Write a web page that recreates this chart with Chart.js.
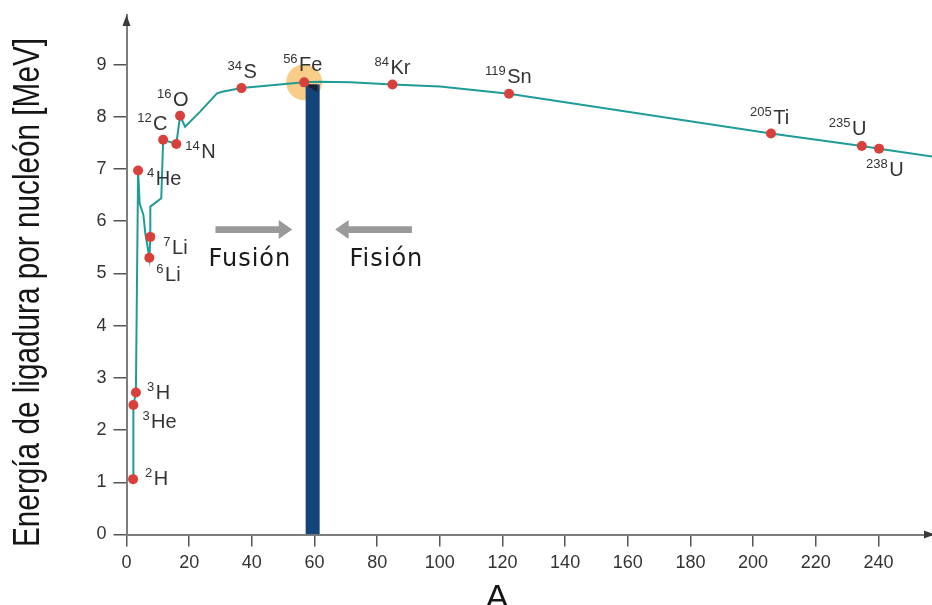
<!DOCTYPE html>
<html lang="es">
<head>
<meta charset="utf-8">
<title>Energía de ligadura por nucleón</title>
<script src="https://cdn.jsdelivr.net/npm/chart.js@4/dist/chart.umd.min.js"></script>
<style>
  html, body { margin: 0; padding: 0; background: #fff; }
  #wrap { width: 932px; height: 605px; position: relative; }
</style>
</head>
<body>
<div id="wrap"><canvas id="chart" width="932" height="605"></canvas></div>
<script>
// Labelled nuclides: mass number text, element symbol, A position and binding energy per nucleon (MeV)
const nuclideMass   = ['2', '3', '3', '4', '6', '7', '12', '14', '16', '34', '56', '84', '119', '205', '235', '238'];
const nuclideSymbol = ['H', 'He', 'H', 'He', 'Li', 'Li', 'C', 'N', 'O', 'S', 'Fe', 'Kr', 'Sn', 'Ti', 'U', 'U'];
const nuclideA      = [2.1, 2.2, 3.0, 3.7, 7.3, 7.6, 11.7, 15.9, 17.1, 36.7, 56.7, 84.9, 122.1, 205.7, 234.7, 240.2];
const nuclideE      = [1.06, 2.48, 2.72, 6.97, 5.30, 5.70, 7.56, 7.48, 8.02, 8.55, 8.66, 8.62, 8.44, 7.68, 7.44, 7.39];

// Binding-energy curve, in drawing order
const curveA = [2.1, 2.2, 3.0, 3.7, 4.2, 5.4, 6.0, 7.3, 7.6, 7.6, 11.1, 11.7, 15.9, 17.1, 18.7, 23.5, 28.9, 30.5,
                36.7, 56.7, 61.8, 71.5, 84.9, 100.1, 122.1, 205.7, 234.7, 240.2, 257.1];
const curveE = [1.06, 2.48, 2.72, 6.97, 6.34, 6.12, 5.77, 5.30, 5.70, 6.28, 6.44, 7.56, 7.48, 8.02, 7.81, 8.10, 8.45, 8.48,
                8.55, 8.66, 8.67, 8.66, 8.62, 8.58, 8.44, 7.68, 7.44, 7.39, 7.24];

// Dividing bar between fusion and fission (A range, top energy) and its dark notch
const dividerA = [57.1, 61.7];
const dividerTop = 8.62;
const notchA = [57.1, 60.9];
const notchE = [8.62, 8.47];

// Arrows (A from -> A to, at energy) and their captions
const fusionArrowA = [28.4, 52.9];
const fissionArrowA = [91.1, 66.6];
const arrowE = 5.84;
const captionText = ['Fusión', 'Fisión'];
const captionA = [39.2, 82.8];
const captionE = 5.15;

// Axis ticks
const xTickStep = 20, xTickLast = 240;
const yTickStep = 1, yTickLast = 9;

// Label placement (pixel offset of label from its point)
const labelOffset = [[12, 6], [9, 23], [11, 7], [9, 14], [7, 23], [13, 17], [-26, -10], [9, 14], [-23, -10],
                     [-14, -10], [-21, -11], [-18, -10], [-24, -11], [-21, -10], [-33, -11], [-13, 27]];

const TEAL = '#1f9c97';
const RED = '#d8403c';
const NAVY = '#13457b';

const pts = (xs, ys) => xs.map((v, i) => ({ x: v, y: ys[i] }));

const decor = {
  id: 'decor',
  afterDatasetsDraw(chart) {
    const { ctx, scales: { x, y } } = chart;
    ctx.save();
    // fusion / fission arrows
    ctx.fillStyle = '#9a9a9a';
    const arrow = (a0, a1, e) => {
      const x0 = x.getPixelForValue(a0), x1 = x.getPixelForValue(a1), yy = y.getPixelForValue(e);
      const dir = Math.sign(x1 - x0);
      const headLen = 13.5, half = 9.5, shaft = 3.3;
      const xb = x1 - dir * headLen;
      ctx.beginPath();
      ctx.moveTo(x0, yy - shaft); ctx.lineTo(xb, yy - shaft); ctx.lineTo(xb, yy - half);
      ctx.lineTo(x1, yy); ctx.lineTo(xb, yy + half); ctx.lineTo(xb, yy + shaft);
      ctx.lineTo(x0, yy + shaft); ctx.closePath(); ctx.fill();
    };
    arrow(fusionArrowA[0], fusionArrowA[1], arrowE);
    arrow(fissionArrowA[0], fissionArrowA[1], arrowE);

    ctx.fillStyle = '#1a1a1a';
    ctx.font = '24px "DejaVu Sans"';
    ctx.letterSpacing = '1px';
    ctx.textAlign = 'center';
    ctx.textBaseline = 'alphabetic';
    captionText.forEach((t, i) => ctx.fillText(t, x.getPixelForValue(captionA[i]) + 0.5, y.getPixelForValue(captionE)));
    ctx.letterSpacing = '0px';

    // nuclide labels with superscript mass numbers
    ctx.textAlign = 'left';
    ctx.fillStyle = '#333';
    nuclideA.forEach((a, i) => {
      const px = x.getPixelForValue(a) + labelOffset[i][0];
      const py = y.getPixelForValue(nuclideE[i]) + labelOffset[i][1];
      ctx.font = '13px "Liberation Sans"';
      ctx.fillText(nuclideMass[i], px, py - 8);
      const w = ctx.measureText(nuclideMass[i]).width;
      ctx.font = '20px "Liberation Sans"';
      ctx.fillText(nuclideSymbol[i], px + w + 1.5, py);
    });
    ctx.restore();
  },
  afterDraw(chart) {
    const { ctx, chartArea } = chart;
    ctx.save();
    // axis arrowheads
    ctx.fillStyle = '#3a3a3a';
    const ax = chartArea.left;
    ctx.beginPath();
    ctx.moveTo(ax, chartArea.top); ctx.lineTo(ax - 4, chartArea.top + 11); ctx.lineTo(ax + 4, chartArea.top + 11);
    ctx.closePath(); ctx.fill();
    const ay = chartArea.bottom;
    ctx.beginPath();
    ctx.moveTo(chartArea.right + 3, ay); ctx.lineTo(chartArea.right - 8, ay - 4); ctx.lineTo(chartArea.right - 8, ay + 4);
    ctx.closePath(); ctx.fill();

    // axis titles
    ctx.fillStyle = '#151515';
    ctx.textBaseline = 'alphabetic';
    ctx.textAlign = 'center';
    ctx.font = '34px "Liberation Sans"';
    ctx.fillText('A', 497, 608);

    const yTitle = 'Energía de ligadura por nucleón [MeV]';
    ctx.font = '36px "Liberation Sans"';
    const w = ctx.measureText(yTitle).width;
    ctx.translate(39, 292.5);
    ctx.rotate(-Math.PI / 2);
    ctx.scale(509 / w, 1);
    ctx.fillText(yTitle, 0, 0);
    ctx.restore();
  }
};

new Chart(document.getElementById('chart'), {
  type: 'scatter',
  data: {
    datasets: [
      { // glow around iron
        data: [{ x: nuclideA[10], y: nuclideE[10] }],
        pointRadius: 18, pointBackgroundColor: 'rgba(246,188,96,0.75)', pointBorderWidth: 0,
        showLine: false, order: 6
      },
      { // divider bar
        data: [{ x: dividerA[0], y: 0 }, { x: dividerA[0], y: dividerTop }, { x: dividerA[1], y: dividerTop }, { x: dividerA[1], y: 0 }],
        showLine: true, fill: 'origin', backgroundColor: NAVY, borderWidth: 0, pointRadius: 0, order: 5
      },
      { // notch at the top of the bar
        data: [{ x: notchA[0], y: notchE[0] }, { x: notchA[1], y: notchE[0] }, { x: notchA[1], y: notchE[1] }],
        showLine: true, fill: 'shape', backgroundColor: '#1b2130', borderWidth: 0, pointRadius: 0, order: 4
      },
      { // binding energy curve
        data: pts(curveA, curveE),
        showLine: true, borderColor: TEAL, borderWidth: 2, pointRadius: 0, tension: 0, fill: false, order: 3
      },
      { // nuclides
        data: pts(nuclideA, nuclideE),
        showLine: false, pointRadius: 5, pointBackgroundColor: RED, pointBorderWidth: 0, order: 1
      }
    ]
  },
  options: {
    responsive: false,
    devicePixelRatio: 1,
    animation: false,
    layout: { autoPadding: false, padding: { top: 15, right: 0, left: 0, bottom: 0 } },
    plugins: { legend: { display: false }, tooltip: { enabled: false } },
    scales: {
      x: {
        type: 'linear', min: 0, max: 257.1, position: 'bottom',
        ticks: { stepSize: xTickStep, includeBounds: false, padding: 6, color: '#333', font: { family: 'Liberation Sans', size: 18 }, maxRotation: 0, autoSkip: false },
        grid: { drawOnChartArea: false, drawTicks: true, tickLength: 12, color: '#555', lineWidth: 1.5 },
        border: { display: true, color: '#7d7d7d', width: 2 },
        afterBuildTicks: s => { s.ticks = s.ticks.filter(t => t.value % xTickStep === 0 && t.value <= xTickLast); },
        afterFit: s => { s.height = 70.5; s.paddingLeft = 0; s.paddingRight = 0; }
      },
      y: {
        type: 'linear', min: 0, max: 9.95,
        ticks: { stepSize: yTickStep, includeBounds: false, padding: 7, color: '#333', font: { family: 'Liberation Sans', size: 18 } },
        grid: { drawOnChartArea: false, drawTicks: true, tickLength: 13, color: '#555', lineWidth: 1.5 },
        border: { display: true, color: '#7d7d7d', width: 2 },
        afterBuildTicks: s => { s.ticks = s.ticks.filter(t => Number.isInteger(t.value) && t.value <= yTickLast); },
        afterFit: s => { s.width = 126.5; s.paddingTop = 0; s.paddingBottom = 0; }
      }
    }
  },
  plugins: [decor]
});
</script>
</body>
</html>
